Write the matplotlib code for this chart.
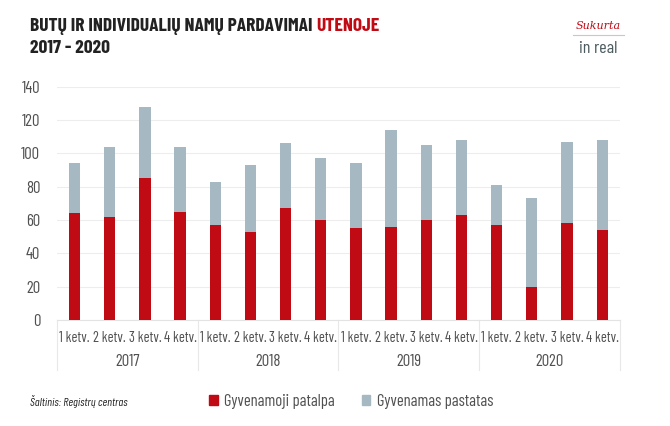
import matplotlib.pyplot as plt
import numpy as np
from matplotlib.transforms import blended_transform_factory

# data
years = ['2017', '2018', '2019', '2020']
quarters = ['1 ketv.', '2 ketv.', '3 ketv.', '4 ketv.']
patalpa = [64, 62, 85, 65, 57, 53, 67, 60, 55, 56, 60, 63, 57, 20, 58, 54]
totals = [94, 104, 128, 104, 83, 93, 106, 97, 94, 114, 105, 108, 81, 73, 107, 108]
pastatas = [t - p for t, p in zip(totals, patalpa)]

red = '#C00A14'
grey = '#A6B9C3'
txt = '#505050'
plt.rcParams['font.family'] = ['Barlow Condensed', 'DejaVu Sans']

fig = plt.figure(figsize=(6.7, 4.26), dpi=100)
ax = fig.add_axes([0.085, 0.249, 0.84, 0.547])

x = np.arange(len(patalpa))
ax.bar(x, patalpa, width=0.32, color=red, zorder=3)
ax.bar(x, pastatas, width=0.32, bottom=patalpa, color=grey, zorder=3)

ax.set_xlim(-0.5, len(x) - 0.5)
ax.set_ylim(0, 140)
ax.set_yticks(range(0, 141, 20))
ax.grid(axis='y', color='#EDEDED', lw=0.8, zorder=0)
for s in ['top', 'right', 'left']:
    ax.spines[s].set_visible(False)
ax.spines['bottom'].set_color('#E3E3E3')
ax.tick_params(axis='y', length=0, labelsize=12, labelcolor=txt, pad=12)
ax.tick_params(axis='x', length=0, labelsize=10.5, labelcolor=txt, pad=8)
ax.set_xticks(x)
ax.set_xticklabels(quarters * len(years))

trans = blended_transform_factory(ax.transData, ax.transAxes)
for i, yr in enumerate(years):
    ax.text(i * 4 + 1.5, -0.178, yr, transform=trans, ha='center', va='center',
            fontsize=12, color=txt)
for b in range(len(years) + 1):
    ax.plot([b * 4 - 0.5] * 2, [0, -0.215], transform=trans, color='#E8E8E8',
            lw=0.8, clip_on=False)

# title
t1 = fig.text(0.045, 0.937, 'BUTŲ IR INDIVIDUALIŲ NAMŲ PARDAVIMAI ', fontsize=14,
              fontweight='bold', color='#222222', va='center')
fig.canvas.draw()
bb = t1.get_window_extent()
fig.text(bb.x1 / fig.bbox.width, 0.937, 'UTENOJE', fontsize=14,
         fontweight='bold', color=red, va='center')
fig.text(0.045, 0.887, '2017 - 2020', fontsize=14, fontweight='bold',
         color='#222222', va='center')

# logo
fig.text(0.893, 0.938, 'Sukurta', fontsize=8, style='italic', color=red,
         ha='center', va='center', family='DejaVu Serif')
fig.add_artist(plt.Line2D([0.855, 0.932], [0.918, 0.918], color='#C8C8C8', lw=0.8))
fig.text(0.893, 0.885, 'in real', fontsize=13, color='#4A5A5E', ha='center',
         va='center')

# footer
fig.text(0.045, 0.058, 'Šaltinis: Registrų centras', fontsize=8.5, style='italic',
         color='#222222', va='center')
fig.legend([plt.Rectangle((0, 0), 1, 1, color=red),
            plt.Rectangle((0, 0), 1, 1, color=grey)],
           ['Gyvenamoji patalpa', 'Gyvenamas pastatas'],
           loc='center left', bbox_to_anchor=(0.29, 0.058), ncol=2,
           frameon=False, labelcolor=txt, handlelength=0.5,
           handleheight=0.5, handletextpad=0.4, columnspacing=1.6,
           prop={'size': 12})

fig.savefig('out.png', dpi=100)
